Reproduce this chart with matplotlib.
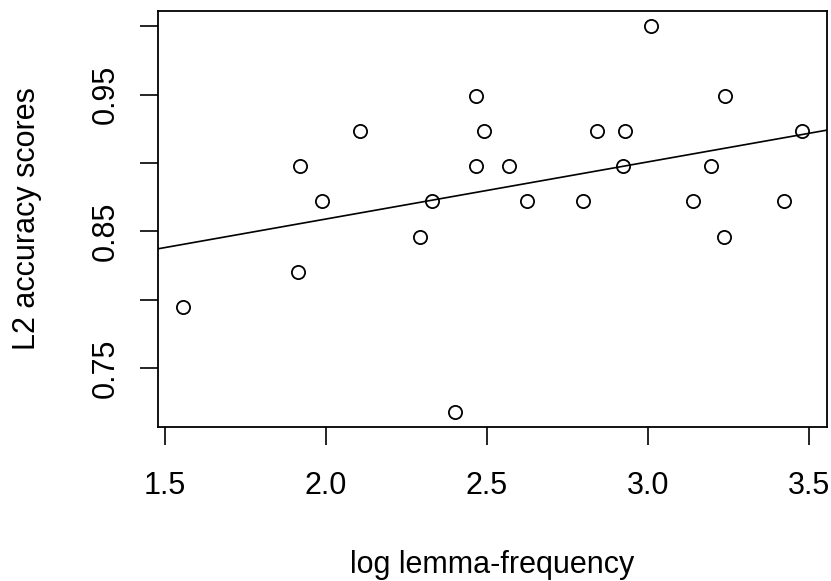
import numpy as np
import matplotlib
matplotlib.use("Agg")
import matplotlib.pyplot as plt

plt.rcParams['font.family'] = ['Liberation Sans', 'DejaVu Sans']

# log lemma-frequency per item and the L2 accuracy score for it
log_freq = [1.556, 1.914, 1.919, 1.988, 2.106, 2.294, 2.331, 2.400,
            2.466, 2.466, 2.493, 2.568, 2.625, 2.798, 2.842, 2.923,
            2.929, 3.010, 3.142, 3.197, 3.236, 3.241, 3.423, 3.480]
n_correct = [31, 32, 35, 34, 36, 33, 34, 28,
             37, 35, 36, 35, 34, 34, 36, 35,
             36, 39, 34, 35, 33, 37, 34, 36]
n_items = 39
accuracy = [c / n_items for c in n_correct]

x_ticks = [1.5, 2.0, 2.5, 3.0, 3.5]
x_tick_labels = ["1.5", "2.0", "2.5", "3.0", "3.5"]
y_ticks = [0.75, 0.80, 0.85, 0.90, 0.95, 1.00]
y_tick_labels = ["0.75", "", "0.85", "", "0.95", ""]

W, H = 831, 581
fig = plt.figure(figsize=(W / 100, H / 100), dpi=100)
left, right, top, bottom = 158, 827, 11, 427
ax = fig.add_axes([left / W, 1 - bottom / H, (right - left) / W, (bottom - top) / H])

x = np.array(log_freq)
y = np.array(accuracy)

ax.plot(x, y, linestyle='none', marker='o', markersize=9.5,
        markerfacecolor='none', markeredgecolor='black', markeredgewidth=1.3)

# R-style 4% padding around the data range
xr = x.max() - x.min()
yr = y.max() - y.min()
ax.set_xlim(x.min() - 0.04 * xr, x.max() + 0.04 * xr)
ax.set_ylim(y.min() - 0.04 * yr, y.max() + 0.04 * yr)

# least-squares fit line across the full plot region
slope, intercept = np.polyfit(x, y, 1)
xl = np.array(ax.get_xlim())
ax.plot(xl, intercept + slope * xl, color='black', linewidth=1.2)

ax.set_xticks(x_ticks)
ax.set_xticklabels(x_tick_labels)
ax.set_yticks(y_ticks)
ax.set_yticklabels(y_tick_labels, rotation=90, va='center')

ax.tick_params(axis='both', direction='out', length=13, width=1.2,
               labelsize=22, colors='black')
ax.tick_params(axis='x', pad=19)
ax.tick_params(axis='y', pad=14)

for s in ax.spines.values():
    s.set_linewidth(1.3)
    s.set_color('black')

fig.text(27.5 / W, 1 - 219 / H, "L2 accuracy scores", rotation=90,
         ha='center', va='center', fontsize=22)
fig.text(492 / W, 1 - 565 / H, "log lemma-frequency",
         ha='center', va='center', fontsize=22)

fig.savefig("out.png", dpi=100, facecolor='white')
